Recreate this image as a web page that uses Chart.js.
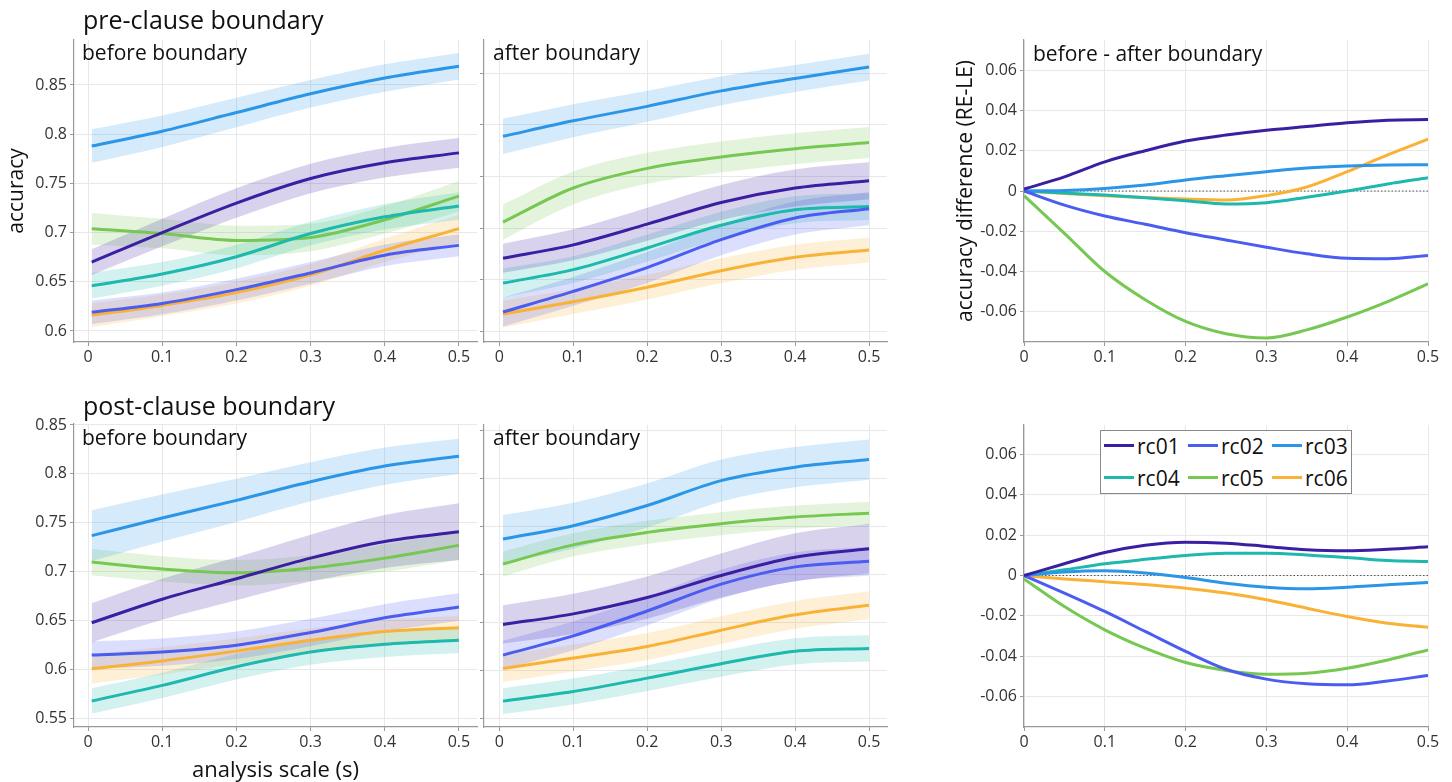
<!DOCTYPE html>
<html><head><meta charset="utf-8">
<script src="https://cdn.jsdelivr.net/npm/chart.js@4.4.1/dist/chart.umd.min.js"></script>
<style>
html,body{margin:0;padding:0;background:#fff;}
body{width:1452px;height:782px;overflow:hidden;position:relative;font-family:"Open Sans",sans-serif;}
#legend{position:absolute;left:1100px;top:430px;width:250px;height:62px;border:1px solid #888;background:#fff;box-sizing:content-box;}
.li{position:absolute;height:32px;}
.li span.sw{position:absolute;left:0;top:13px;width:30px;height:3px;}
.li span.tx{position:absolute;left:33px;top:0;line-height:30px;font-size:21px;color:#111;white-space:nowrap;}
</style></head><body>
<script>
const FONT = '"Open Sans", sans-serif';
const seriesNames = ['rc01','rc02','rc03','rc04','rc05','rc06'];
const seriesColors = ['#3b1fa3','#4b5cf0','#2b96e8','#1db8ae','#76c852','#f9b236'];

const xAcc = [0.005, 0.1, 0.2, 0.3, 0.4, 0.5];
const xDiff = [0, 0.05, 0.1, 0.15, 0.2, 0.25, 0.3, 0.35, 0.4, 0.45, 0.5];
const xTickVals = [0, 0.1, 0.2, 0.3, 0.4, 0.5];
const accTicksPre = [0.6, 0.65, 0.7, 0.75, 0.8, 0.85];
const accTicksPost = [0.55, 0.6, 0.65, 0.7, 0.75, 0.8, 0.85];
const diffTicks = [-0.06, -0.04, -0.02, 0, 0.02, 0.04, 0.06];
const zeroX = [0, 0.5];
const zeroY = [0, 0];

// pre-clause boundary, before boundary (rows rc01..rc06)
const preBeforeMean = [
  [0.670,0.700,0.730,0.755,0.771,0.781],
  [0.619,0.628,0.642,0.659,0.677,0.687],
  [0.788,0.803,0.822,0.841,0.857,0.869],
  [0.646,0.658,0.6755,0.699,0.716,0.727],
  [0.704,0.699,0.692,0.695,0.713,0.737],
  [0.616,0.626,0.639,0.657,0.682,0.704]
];
const preBeforeHW = [
  [0.013,0.014,0.015,0.015,0.015,0.015],
  [0.012,0.011,0.011,0.011,0.011,0.011],
  [0.017,0.016,0.015,0.014,0.014,0.0135],
  [0.013,0.012,0.012,0.012,0.013,0.014],
  [0.016,0.015,0.015,0.014,0.014,0.0155],
  [0.012,0.011,0.011,0.011,0.012,0.014]
];
// pre-clause boundary, after boundary
const preAfterMean = [
  [0.671,0.684,0.704,0.725,0.739,0.746],
  [0.619,0.639,0.662,0.689,0.710,0.719],
  [0.789,0.804,0.818,0.833,0.845,0.856],
  [0.647,0.660,0.681,0.703,0.718,0.721],
  [0.706,0.739,0.758,0.769,0.777,0.783],
  [0.617,0.629,0.643,0.659,0.672,0.679]
];
const preAfterHW = [
  [0.014,0.015,0.016,0.017,0.018,0.018],
  [0.014,0.014,0.015,0.015,0.016,0.016],
  [0.017,0.016,0.015,0.014,0.013,0.013],
  [0.014,0.013,0.013,0.013,0.013,0.013],
  [0.017,0.016,0.015,0.015,0.015,0.015],
  [0.013,0.012,0.012,0.012,0.012,0.012]
];
// pre-clause boundary, before - after difference
const preDiff = [
  [0.001,0.007,0.0145,0.020,0.0248,0.0278,0.0302,0.032,0.0339,0.0352,0.0355],
  [0,-0.007,-0.0124,-0.0165,-0.0207,-0.0243,-0.0279,-0.0312,-0.0334,-0.0336,-0.032],
  [0,0.0003,0.0013,0.003,0.0055,0.0076,0.0096,0.0114,0.0124,0.0129,0.013],
  [0,-0.001,-0.002,-0.0033,-0.0048,-0.0064,-0.0058,-0.0031,0,0.0035,0.0066],
  [-0.0023,-0.021,-0.040,-0.054,-0.0648,-0.0709,-0.073,-0.069,-0.0626,-0.0549,-0.0461],
  [0,-0.0012,-0.0023,-0.0032,-0.004,-0.0045,-0.0023,0.002,0.0096,0.0179,0.0258]
];
// post-clause boundary, before boundary
const postBeforeMean = [
  [0.648,0.672,0.693,0.714,0.731,0.741],
  [0.615,0.618,0.625,0.638,0.653,0.664],
  [0.737,0.755,0.773,0.792,0.808,0.818],
  [0.568,0.584,0.603,0.618,0.626,0.630],
  [0.710,0.703,0.699,0.704,0.714,0.727],
  [0.601,0.609,0.619,0.630,0.639,0.643]
];
const postBeforeHW = [
  [0.020,0.021,0.022,0.024,0.027,0.029],
  [0.014,0.014,0.014,0.014,0.014,0.014],
  [0.026,0.024,0.022,0.020,0.019,0.018],
  [0.013,0.013,0.013,0.013,0.013,0.013],
  [0.0135,0.013,0.013,0.013,0.014,0.015],
  [0.015,0.014,0.013,0.012,0.012,0.012]
];
// post-clause boundary, after boundary
const postAfterMean = [
  [0.648,0.659,0.676,0.699,0.718,0.727],
  [0.616,0.636,0.662,0.690,0.708,0.714],
  [0.737,0.751,0.772,0.798,0.812,0.820],
  [0.568,0.578,0.592,0.607,0.620,0.623],
  [0.711,0.731,0.744,0.753,0.760,0.764],
  [0.602,0.613,0.625,0.642,0.658,0.668]
];
const postAfterHW = [
  [0.020,0.021,0.022,0.023,0.025,0.026],
  [0.015,0.015,0.015,0.015,0.015,0.015],
  [0.025,0.024,0.023,0.022,0.021,0.021],
  [0.0135,0.0135,0.0135,0.0135,0.0137,0.0137],
  [0.013,0.012,0.012,0.012,0.012,0.012],
  [0.014,0.014,0.014,0.0145,0.0145,0.0145]
];
// post-clause boundary, before - after difference
const postDiff = [
  [0,0.0058,0.0114,0.015,0.0165,0.016,0.0144,0.0127,0.0122,0.013,0.0142],
  [0,-0.0087,-0.0178,-0.0277,-0.0376,-0.0464,-0.0513,-0.0536,-0.0541,-0.0522,-0.0495],
  [0,0.0017,0.0023,0.0012,-0.001,-0.0038,-0.0058,-0.0066,-0.0058,-0.0046,-0.0035],
  [0,0.0028,0.0058,0.008,0.0099,0.011,0.011,0.0102,0.0089,0.0074,0.0069],
  [-0.0017,-0.0154,-0.0269,-0.036,-0.0431,-0.047,-0.0489,-0.0484,-0.0459,-0.0418,-0.0368],
  [0,-0.0017,-0.0031,-0.0045,-0.0063,-0.0087,-0.012,-0.0162,-0.0203,-0.0236,-0.0256]
];

function rgba(hex, a) {
  const n = parseInt(hex.slice(1), 16);
  return `rgba(${(n>>16)&255},${(n>>8)&255},${n&255},${a})`;
}
function fmt(v) { return String(Number(Number(v).toFixed(4))); }

const textPlugin = {
  id: 'panelText',
  afterDraw(chart, args, opts) {
    const ctx = chart.ctx;
    (opts.items || []).forEach(t => {
      ctx.save();
      ctx.font = `${t.size}px ${FONT}`;
      ctx.fillStyle = '#111';
      ctx.textAlign = 'left';
      ctx.textBaseline = 'alphabetic';
      ctx.fillText(t.text, t.x, t.y);
      ctx.restore();
    });
  }
};

function panel(p) {
  const c = document.createElement('canvas');
  c.width = p.w; c.height = p.h;
  c.style.cssText = `position:absolute;left:${p.left}px;top:${p.top}px;width:${p.w}px;height:${p.h}px;`;
  document.body.appendChild(c);
  const yW = p.area[0] - p.left;
  const padTop = p.area[1] - p.top;
  const padRight = p.left + p.w - p.area[2];
  const xH = p.top + p.h - p.area[3];
  const datasets = [];
  if (p.hw) {
    p.mean.forEach((m, i) => {
      datasets.push({data: p.xs.map((x, k) => ({x, y: m[k] + p.hw[i][k]})), fill: '+1',
        backgroundColor: rgba(seriesColors[i], 0.2), borderColor: 'rgba(0,0,0,0)', borderWidth: 0,
        pointRadius: 0, cubicInterpolationMode: 'monotone', order: 20});
      datasets.push({data: p.xs.map((x, k) => ({x, y: m[k] - p.hw[i][k]})), fill: false,
        borderColor: 'rgba(0,0,0,0)', borderWidth: 0, pointRadius: 0,
        cubicInterpolationMode: 'monotone', order: 20});
    });
  }
  if (p.zero) {
    datasets.push({data: zeroX.map((x, k) => ({x, y: zeroY[k]})), borderColor: '#555', borderWidth: 1,
      borderDash: [1.5, 2], pointRadius: 0, fill: false, order: 15});
  }
  p.mean.forEach((m, i) => {
    datasets.push({label: seriesNames[i], data: p.xs.map((x, k) => ({x, y: m[k]})),
      borderColor: seriesColors[i], borderWidth: 3, pointRadius: 0, fill: false,
      cubicInterpolationMode: 'monotone', order: 1 + i});
  });
  const gridCommon = {color: '#e8e8e8', lineWidth: 1, tickLength: 4, tickColor: '#999', drawTicks: true};
  const borderCommon = {display: true, color: '#999', width: 1.2};
  new Chart(c, {
    type: 'line',
    data: {datasets},
    plugins: [textPlugin],
    options: {
      responsive: false, animation: false, devicePixelRatio: 1,
      layout: {padding: {top: padTop, right: padRight, left: 0, bottom: 0}},
      plugins: {
        legend: {display: false}, tooltip: {enabled: false},
        filler: {drawTime: 'beforeDatasetsDraw'},
        panelText: {items: p.texts || []}
      },
      scales: {
        x: {
          type: 'linear', min: p.xmin, max: p.xmax,
          afterBuildTicks: s => { s.ticks = xTickVals.map(v => ({value: v})); },
          afterFit: s => { s.height = xH; s.paddingLeft = 0; s.paddingRight = 0; },
          ticks: {font: {family: FONT, size: 16}, color: '#333', padding: 2, maxRotation: 0,
            autoSkip: false, callback: v => fmt(v)},
          grid: gridCommon, border: borderCommon,
          title: p.xTitle ? {display: true, text: p.xTitle, color: '#111',
            font: {family: FONT, size: 22, lineHeight: 1.0}, padding: {top: 0, bottom: 0}} : {display: false}
        },
        y: {
          type: 'linear', min: p.ymin, max: p.ymax,
          afterBuildTicks: s => { s.ticks = p.yTicks.map(v => ({value: v})); },
          afterFit: s => { s.width = yW; s.paddingTop = 0; s.paddingBottom = 0; },
          ticks: {display: p.yLabels, font: {family: FONT, size: 16}, color: '#333', padding: 3,
            autoSkip: false, callback: v => fmt(v)},
          grid: gridCommon, border: borderCommon,
          title: p.yTitle ? {display: true, text: p.yTitle, color: '#111',
            font: {family: FONT, size: 21, lineHeight: 1.2}, padding: {top: p.yTitlePad, bottom: 0}} : {display: false}
        }
      }
    }
  });
}

// top row
panel({left: 0, top: 0, w: 480, h: 375, area: [74, 40, 477, 342], xs: xAcc,
  mean: preBeforeMean, hw: preBeforeHW, xmin: -0.0189, xmax: 0.5243, ymin: 0.5888, ymax: 0.8957,
  yTicks: accTicksPre, yLabels: true, yTitle: 'accuracy', yTitlePad: 4,
  texts: [{text: 'pre-clause boundary', x: 83, y: 29, size: 25}, {text: 'before boundary', x: 82, y: 60, size: 21}]});
panel({left: 480, top: 0, w: 410, h: 375, area: [484, 40, 887, 342], xs: xAcc,
  mean: preAfterMean, hw: preAfterHW, xmin: -0.0207, xmax: 0.5243, ymin: 0.590, ymax: 0.8822,
  yTicks: accTicksPre, yLabels: false,
  texts: [{text: 'after boundary', x: 13, y: 60, size: 21}]});
panel({left: 950, top: 0, w: 502, h: 375, area: [1024, 40, 1428, 342], xs: xDiff,
  mean: preDiff, zero: true, xmin: 0, xmax: 0.5, ymin: -0.075, ymax: 0.075,
  yTicks: diffTicks, yLabels: true, yTitle: 'accuracy difference (RE-LE)', yTitlePad: 3,
  texts: [{text: 'before - after boundary', x: 83, y: 61, size: 21}]});

// bottom row
panel({left: 0, top: 385, w: 480, h: 397, area: [74, 424, 477, 727], xs: xAcc,
  mean: postBeforeMean, hw: postBeforeHW, xmin: -0.0189, xmax: 0.5243, ymin: 0.5415, ymax: 0.851,
  yTicks: accTicksPost, yLabels: true, xTitle: 'analysis scale (s)',
  texts: [{text: 'post-clause boundary', x: 83, y: 30, size: 25}, {text: 'before boundary', x: 82, y: 60, size: 21}]});
panel({left: 480, top: 385, w: 410, h: 397, area: [484, 425, 887, 727], xs: xAcc,
  mean: postAfterMean, hw: postAfterHW, xmin: -0.0207, xmax: 0.5243, ymin: 0.541, ymax: 0.856,
  yTicks: accTicksPost, yLabels: false,
  texts: [{text: 'after boundary', x: 13, y: 60, size: 21}]});
panel({left: 950, top: 385, w: 502, h: 397, area: [1024, 425, 1428, 727], xs: xDiff,
  mean: postDiff, zero: true, xmin: 0, xmax: 0.5, ymin: -0.075, ymax: 0.0745,
  yTicks: diffTicks, yLabels: true});

// legend
const lg = document.createElement('div');
lg.id = 'legend';
seriesNames.forEach((name, i) => {
  const it = document.createElement('div');
  it.className = 'li';
  it.style.left = (3 + (i % 3) * 84) + 'px';
  it.style.top = (Math.floor(i / 3) * 32) + 'px';
  const sw = document.createElement('span'); sw.className = 'sw'; sw.style.background = seriesColors[i];
  const tx = document.createElement('span'); tx.className = 'tx'; tx.textContent = name;
  it.appendChild(sw); it.appendChild(tx);
  lg.appendChild(it);
});
document.body.appendChild(lg);
</script>
</body></html>
